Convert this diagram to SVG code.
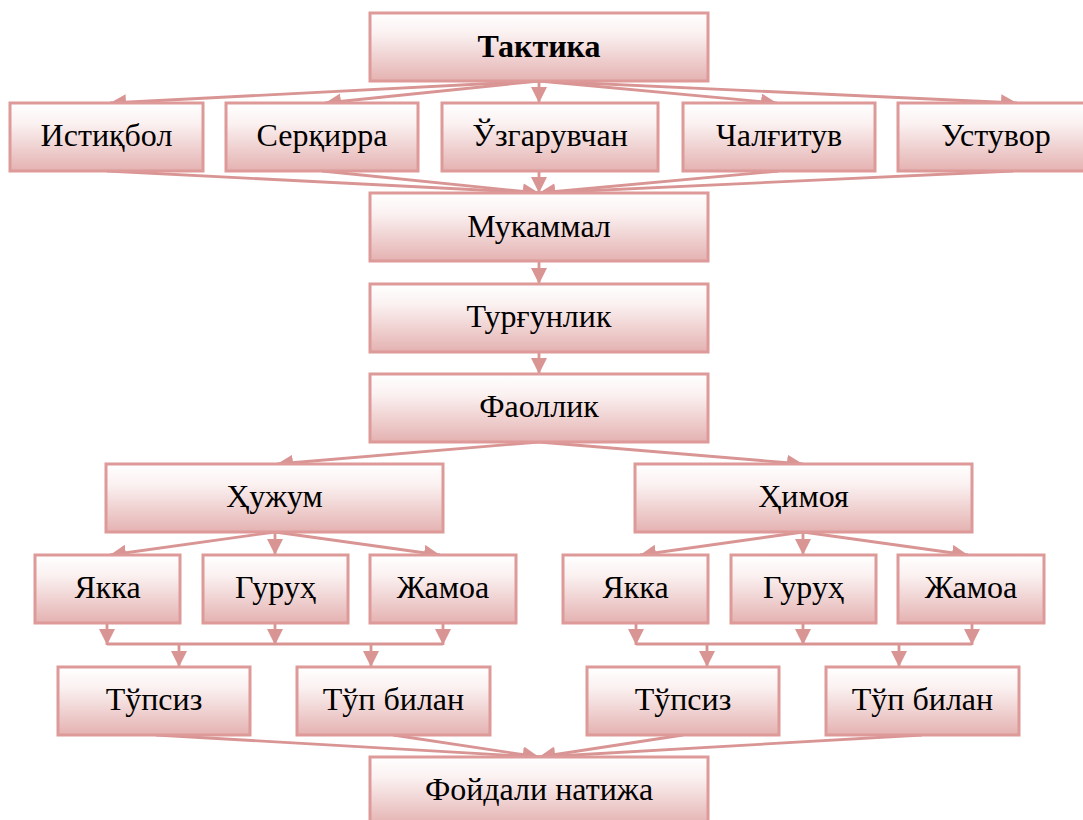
<svg xmlns="http://www.w3.org/2000/svg" width="1083" height="820" viewBox="0 0 1083 820">
  <style>
    .box { fill: url(#boxFill); stroke: #dd9a99; stroke-width: 3; }
    .lbl { font-family: "Liberation Serif", "Times New Roman", "DejaVu Serif", serif; font-size: 32px; fill: #000; text-anchor: middle; }
    .bold { font-weight: bold; }
    .con { stroke: #d99594; stroke-width: 2.8; fill: none; }
    .arr { marker-end: url(#head); }
  </style>
  <defs>
    <linearGradient id="boxFill" x1="0" y1="0" x2="0" y2="1">
      <stop offset="0" stop-color="#ffffff"/>
      <stop offset="0.3" stop-color="#fbf1f1"/>
      <stop offset="1" stop-color="#e4b2b1"/>
    </linearGradient>
    <marker id="head" markerUnits="userSpaceOnUse" markerWidth="18" markerHeight="18" refX="16" refY="8" orient="auto">
      <path d="M0,0 L16,8 L0,16 z" fill="#d99594"/>
    </marker>
  </defs>

  <!-- connectors -->
  <g id="connectors">
    <!-- Тактика to the five qualities -->
    <line class="con arr" x1="539" y1="81" x2="110" y2="103"/>
    <line class="con arr" x1="539" y1="81" x2="325" y2="103"/>
    <line class="con arr" x1="539" y1="81" x2="539" y2="103"/>
    <line class="con arr" x1="539" y1="81" x2="777" y2="103"/>
    <line class="con arr" x1="539" y1="81" x2="1017" y2="103"/>
    <!-- qualities to Мукаммал -->
    <line class="con arr" x1="107" y1="171" x2="539" y2="193"/>
    <line class="con arr" x1="322" y1="171" x2="539" y2="193"/>
    <line class="con arr" x1="539" y1="171" x2="539" y2="193"/>
    <line class="con arr" x1="779" y1="171" x2="539" y2="193"/>
    <line class="con arr" x1="1013" y1="171" x2="539" y2="193"/>
    <!-- central chain -->
    <line class="con arr" x1="539" y1="261" x2="539" y2="284"/>
    <line class="con arr" x1="539" y1="352" x2="539" y2="374"/>
    <line class="con arr" x1="539" y1="442" x2="277" y2="464"/>
    <line class="con arr" x1="539" y1="442" x2="803" y2="464"/>
    <!-- Ҳужум branch -->
    <line class="con arr" x1="275" y1="532" x2="110" y2="555"/>
    <line class="con arr" x1="275" y1="532" x2="275" y2="555"/>
    <line class="con arr" x1="275" y1="532" x2="440" y2="555"/>
    <!-- Ҳимоя branch -->
    <line class="con arr" x1="803" y1="532" x2="640" y2="555"/>
    <line class="con arr" x1="803" y1="532" x2="803" y2="555"/>
    <line class="con arr" x1="803" y1="532" x2="968" y2="555"/>
    <!-- left bus -->
    <line class="con arr" x1="107" y1="623" x2="107" y2="645"/>
    <line class="con arr" x1="275" y1="623" x2="275" y2="645"/>
    <line class="con arr" x1="443" y1="623" x2="443" y2="645"/>
    <line class="con" x1="107" y1="644" x2="443" y2="644"/>
    <line class="con arr" x1="179" y1="644" x2="179" y2="667"/>
    <line class="con arr" x1="371" y1="644" x2="371" y2="667"/>
    <!-- right bus -->
    <line class="con arr" x1="636" y1="623" x2="636" y2="645"/>
    <line class="con arr" x1="803" y1="623" x2="803" y2="645"/>
    <line class="con arr" x1="972" y1="623" x2="972" y2="645"/>
    <line class="con" x1="636" y1="644" x2="972" y2="644"/>
    <line class="con arr" x1="707" y1="644" x2="707" y2="667"/>
    <line class="con arr" x1="899" y1="644" x2="899" y2="667"/>
    <!-- into Фойдали натижа -->
    <line class="con arr" x1="156" y1="735" x2="539" y2="757"/>
    <line class="con arr" x1="393" y1="735" x2="539" y2="757"/>
    <line class="con arr" x1="683" y1="735" x2="539" y2="757"/>
    <line class="con arr" x1="922" y1="735" x2="539" y2="757"/>
  </g>

  <!-- nodes -->
  <g id="n-taktika"><rect class="box" x="370" y="13" width="338" height="68"/><text class="lbl bold" x="539" y="57">Тактика</text></g>

  <g id="n-istiqbol"><rect class="box" x="10" y="103" width="193" height="68"/><text class="lbl" x="106.5" y="146">Истиқбол</text></g>
  <g id="n-serqirra"><rect class="box" x="226" y="103" width="192" height="68"/><text class="lbl" x="322" y="146">Серқирра</text></g>
  <g id="n-uzgaruvchan"><rect class="box" x="442" y="103" width="216" height="68"/><text class="lbl" x="550" y="146">Ўзгарувчан</text></g>
  <g id="n-chalgituv"><rect class="box" x="683" y="103" width="192" height="68"/><text class="lbl" x="779" y="146">Чалғитув</text></g>
  <g id="n-ustuvor"><rect class="box" x="898" y="103" width="192" height="68"/><text class="lbl" x="996" y="146">Устувор</text></g>

  <g id="n-mukammal"><rect class="box" x="370" y="193" width="338" height="68"/><text class="lbl" x="539" y="237">Мукаммал</text></g>
  <g id="n-turgunlik"><rect class="box" x="370" y="284" width="338" height="68"/><text class="lbl" x="539" y="327">Турғунлик</text></g>
  <g id="n-faollik"><rect class="box" x="370" y="374" width="338" height="68"/><text class="lbl" x="539" y="417">Фаоллик</text></g>

  <g id="n-hujum"><rect class="box" x="106" y="464" width="337" height="68"/><text class="lbl" x="274.5" y="507">Ҳужум</text></g>
  <g id="n-himoya"><rect class="box" x="635" y="464" width="337" height="68"/><text class="lbl" x="803.5" y="507">Ҳимоя</text></g>

  <g id="n-yakka-1"><rect class="box" x="35" y="555" width="145" height="68"/><text class="lbl" x="107.5" y="598">Якка</text></g>
  <g id="n-guruh-1"><rect class="box" x="203" y="555" width="145" height="68"/><text class="lbl" x="275.5" y="598">Гуруҳ</text></g>
  <g id="n-jamoa-1"><rect class="box" x="370" y="555" width="146" height="68"/><text class="lbl" x="443" y="598">Жамоа</text></g>

  <g id="n-yakka-2"><rect class="box" x="563" y="555" width="145" height="68"/><text class="lbl" x="635.5" y="598">Якка</text></g>
  <g id="n-guruh-2"><rect class="box" x="731" y="555" width="145" height="68"/><text class="lbl" x="803.5" y="598">Гуруҳ</text></g>
  <g id="n-jamoa-2"><rect class="box" x="898" y="555" width="146" height="68"/><text class="lbl" x="971" y="598">Жамоа</text></g>

  <g id="n-tupsiz-1"><rect class="box" x="58" y="667" width="192" height="68"/><text class="lbl" x="154" y="710">Тўпсиз</text></g>
  <g id="n-tupbilan-1"><rect class="box" x="297" y="667" width="193" height="68"/><text class="lbl" x="393.5" y="710">Тўп билан</text></g>
  <g id="n-tupsiz-2"><rect class="box" x="587" y="667" width="192" height="68"/><text class="lbl" x="683" y="710">Тўпсиз</text></g>
  <g id="n-tupbilan-2"><rect class="box" x="826" y="667" width="193" height="68"/><text class="lbl" x="922.5" y="710">Тўп билан</text></g>

  <g id="n-foydali"><rect class="box" x="370" y="757" width="338" height="68"/><text class="lbl" x="539" y="800">Фойдали натижа</text></g>
</svg>
